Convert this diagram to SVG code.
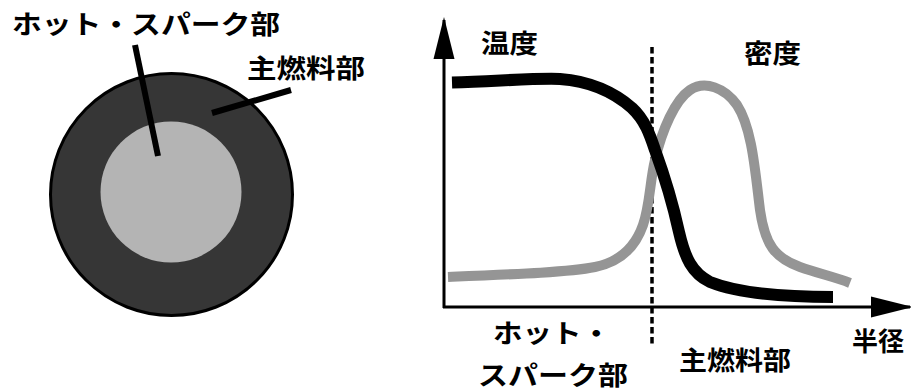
<svg xmlns="http://www.w3.org/2000/svg" width="911" height="391" viewBox="0 0 911 391">
<style>
.lbl{font-family:"Noto Sans CJK JP","Noto Sans CJK SC",sans-serif;font-weight:700;font-size:26px;fill:#000}
.leader{stroke:#000;stroke-width:6;fill:none}
.axis{stroke:#000;stroke-width:3;fill:none}
.temp{stroke:#000;stroke-width:12;fill:none;stroke-linejoin:round}
.dens{stroke:#959595;stroke-width:10;fill:none;stroke-linejoin:round}
</style>
<defs>
<marker id="arrow" viewBox="0 0 14 7" refX="13" refY="3.5" markerUnits="userSpaceOnUse" markerWidth="42" markerHeight="22" orient="auto">
<path d="M0,0 L14,3.5 L0,7 Z" fill="#000"/>
</marker>
</defs>
<rect width="911" height="391" fill="#fff"/>

<g id="pellet">
<g id="main-fuel-region">
<circle cx="171.5" cy="194.5" r="121" fill="#363636" stroke="#000" stroke-width="3"/>
</g>
<g id="hot-spark-region">
<circle cx="171" cy="192" r="70.5" fill="#b4b4b4"/>
</g>
</g>

<g id="connectors">
<line class="leader" x1="135" y1="45" x2="158" y2="156"/>
<line class="leader" x1="291" y1="90" x2="212" y2="113"/>
</g>

<g id="pellet-labels">
<text id="label-hotspark" class="lbl" x="12" y="34" textLength="268" lengthAdjust="spacingAndGlyphs">ホット・スパーク部</text>
<text id="label-mainfuel" class="lbl" x="247" y="78" textLength="118" lengthAdjust="spacingAndGlyphs">主燃料部</text>
</g>

<g id="graph">
<g id="axes">
<line class="axis" x1="444" y1="308" x2="444" y2="20" marker-end="url(#arrow)"/>
<line class="axis" x1="443" y1="307" x2="910" y2="307" marker-end="url(#arrow)"/>
</g>
<g id="boundary">
<line x1="652" y1="47" x2="652" y2="347" stroke="#000" stroke-width="3.5" stroke-dasharray="6.5 3.5"/>
</g>
<g id="density-curve">
<path class="dens" d="M448,277 C520,274 570,272 595,267 C620,262 635,248 643,225 C650,205 650,180 655,160 C662,130 675,100 690,90 C705,80 725,88 737,105 C752,128 755,170 760,210 C765,245 775,258 800,267 C820,274 835,277 850,283"/>
</g>
<g id="temperature-curve">
<path class="temp" d="M452,82.5 C500,81 535,78 560,79 C590,81 615,93 632,108 C645,120 650,135 655,150 C663,172 672,200 679,232 C685,258 692,273 710,282 C735,292 780,297 833,297"/>
</g>
<g id="graph-labels">
<text class="lbl" x="481" y="53" textLength="57" lengthAdjust="spacingAndGlyphs">温度</text>
<text class="lbl" x="744" y="63" textLength="57" lengthAdjust="spacingAndGlyphs">密度</text>
<text class="lbl" x="852" y="351" textLength="52" lengthAdjust="spacingAndGlyphs">半径</text>
<text class="lbl" x="493" y="343" textLength="118" lengthAdjust="spacingAndGlyphs">ホット・</text>
<text class="lbl" x="478" y="385" textLength="150" lengthAdjust="spacingAndGlyphs">スパーク部</text>
<text class="lbl" x="679" y="370" textLength="112" lengthAdjust="spacingAndGlyphs">主燃料部</text>
</g>
</g>
</svg>
